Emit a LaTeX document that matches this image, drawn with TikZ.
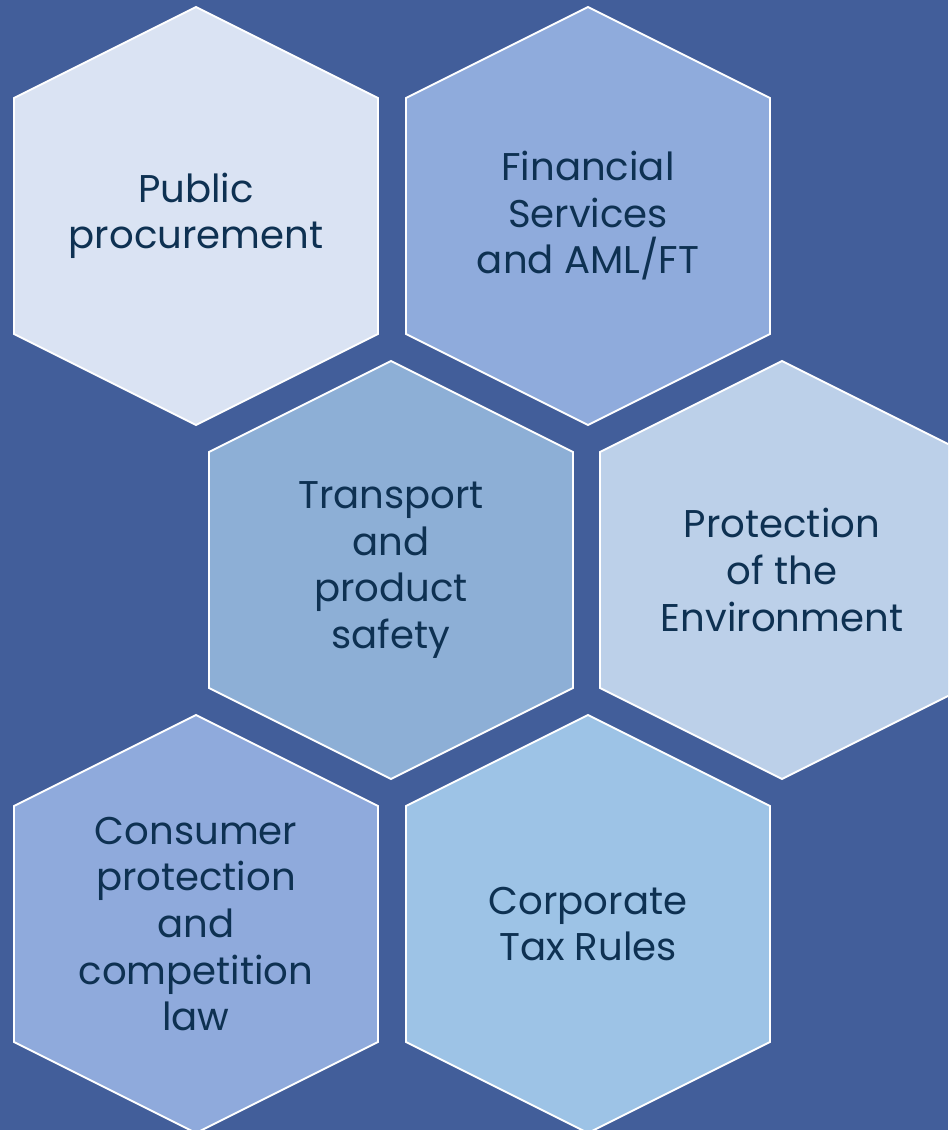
\documentclass[tikz,border=0pt]{standalone}
\usepackage{fontspec}
\setmainfont{Poppins}
\usetikzlibrary{positioning}
\definecolor{pagebg}{HTML}{425E9A}
\definecolor{ink}{HTML}{0E3152}
\definecolor{cellA}{HTML}{DAE3F3}
\definecolor{cellB}{HTML}{8FABDC}
\definecolor{cellC}{HTML}{8DAFD6}
\definecolor{cellD}{HTML}{BCD0E9}
\definecolor{cellE}{HTML}{8FAADC}
\definecolor{cellF}{HTML}{9DC3E6}
\tikzset{
  cell/.style={draw=white,line width=1.1pt,line join=miter},
  celltext/.style={text=ink,align=center,font=\fontsize{22}{26.5}\selectfont}
}

\begin{document}
\begin{tikzpicture}[x=0.02cm,y=0.02cm]
\useasboundingbox (0,0) rectangle (948,1130);
\clip (0,0) rectangle (948,1130);
\fill[pagebg] (0,0) rectangle (948,1130);

% honeycomb: centre x / centre y / fill
\foreach \cx/\cy/\col in {196/914/cellA, 588/914/cellB,
                          391/560/cellC, 782/560/cellD,
                          196/206/cellE, 588/206/cellF}{
  \draw[cell,fill=\col] (\cx,\cy+209) -- ++(182,-91) -- ++(0,-236)
    -- ++(-182,-91) -- ++(-182,91) -- ++(0,236) -- cycle;
}

% labels
\node[celltext] (procure) at (196,914) {Public\\procurement};
\node[celltext] (finance) at (588,914) {Financial\\Services\\and AML/FT};
\node[celltext] (transport) at (391,560) {Transport\\and\\product\\safety};
\node[celltext] (environ) at (782,560) {Protection\\of the\\Environment};
\node[celltext] (consumer) at (196,206) {Consumer\\protection\\and\\competition\\law};
\node[celltext] (tax) at (588,206) {Corporate\\Tax Rules};
\end{tikzpicture}
\end{document}
